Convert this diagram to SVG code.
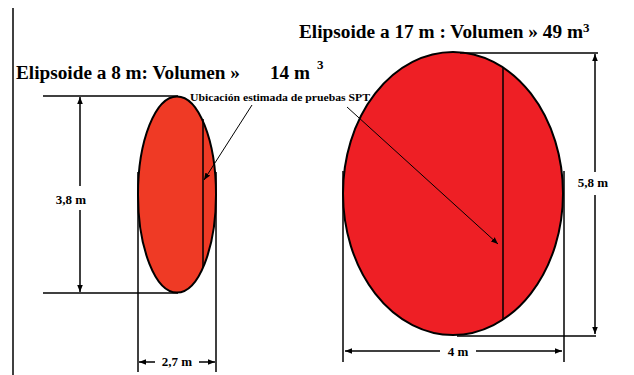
<svg xmlns="http://www.w3.org/2000/svg" width="634" height="375" viewBox="0 0 634 375">
<style>
.ln{stroke:#000;stroke-width:1.5;fill:none}
.thin{stroke:#000;stroke-width:1;fill:none}
text{font-family:'Liberation Serif','Times New Roman','DejaVu Serif',serif;font-weight:bold;fill:#000}
.title{font-size:18.5px}
.lbl{font-size:13px}
.note{font-size:10.5px}
</style>
<defs>
<marker id="ah" viewBox="0 0 10 10" refX="10" refY="5" markerWidth="7" markerHeight="7" orient="auto-start-reverse" markerUnits="userSpaceOnUse">
<path d="M0,1 L10,5 L0,9 Z" fill="#000"/>
</marker>
</defs>
<rect width="634" height="375" fill="#fff"/>
<line class="ln" x1="13" y1="8" x2="13" y2="375"/>

<g id="ellipsoid-small">
<ellipse cx="177" cy="194.5" rx="39" ry="98" fill="#EF3A25" stroke="#000" stroke-width="2"/>
<line class="ln" x1="203" y1="119" x2="203" y2="267" stroke-width="2"/>
</g>

<g id="ellipsoid-large">
<ellipse cx="453" cy="193.5" rx="110" ry="141.5" fill="#EE1F25" stroke="#000" stroke-width="2"/>
<line class="ln" x1="503" y1="68" x2="503" y2="319" stroke-width="2"/>
</g>

<g id="titles">
<text class="title" x="16" y="79" textLength="224" lengthAdjust="spacingAndGlyphs">Elipsoide a 8 m: Volumen »</text>
<text class="title" x="270" y="79" textLength="40" lengthAdjust="spacingAndGlyphs">14 m</text>
<text class="lbl" x="317" y="69">3</text>
<text class="title" x="299" y="38" textLength="284" lengthAdjust="spacingAndGlyphs">Elipsoide a 17 m : Volumen » 49 m</text>
<text class="lbl" x="583" y="32">3</text>
<text class="note" x="190" y="101" textLength="180" lengthAdjust="spacingAndGlyphs">Ubicación estimada de pruebas SPT</text>
</g>

<g id="connectors">
<line class="ln" x1="43" y1="96" x2="178" y2="96"/>
<line class="ln" x1="43" y1="293" x2="178" y2="293"/>
<line class="ln" x1="80" y1="97" x2="80" y2="186" marker-start="url(#ah)"/>
<line class="ln" x1="80" y1="210" x2="80" y2="292" marker-end="url(#ah)"/>
<line class="ln" x1="138" y1="172" x2="138" y2="372"/>
<line class="ln" x1="216" y1="172" x2="216" y2="372"/>
<line class="ln" x1="139" y1="362" x2="155" y2="362" marker-start="url(#ah)"/>
<line class="ln" x1="199" y1="362" x2="215" y2="362" marker-end="url(#ah)"/>
<line class="ln" x1="460" y1="53" x2="598" y2="53"/>
<line class="ln" x1="457" y1="336" x2="596" y2="336"/>
<line class="ln" x1="595" y1="54" x2="595" y2="172" marker-start="url(#ah)"/>
<line class="ln" x1="595" y1="195" x2="595" y2="334" marker-end="url(#ah)"/>
<line class="ln" x1="343" y1="171" x2="343" y2="362"/>
<line class="ln" x1="564" y1="171" x2="564" y2="362"/>
<line class="ln" x1="345" y1="351" x2="440" y2="351" marker-start="url(#ah)"/>
<line class="ln" x1="476" y1="351" x2="562" y2="351" marker-end="url(#ah)"/>
<line class="thin" x1="252" y1="105" x2="204" y2="180" marker-end="url(#ah)"/>
<line class="thin" x1="347" y1="107" x2="498" y2="244" marker-end="url(#ah)"/>
</g>

<g id="labels">
<text class="lbl" x="71" y="204" text-anchor="middle">3,8 m</text>
<text class="lbl" x="177" y="366" text-anchor="middle">2,7 m</text>
<text class="lbl" x="593" y="187" text-anchor="middle">5,8 m</text>
<text class="lbl" x="458" y="356" text-anchor="middle">4 m</text>
</g>
</svg>
